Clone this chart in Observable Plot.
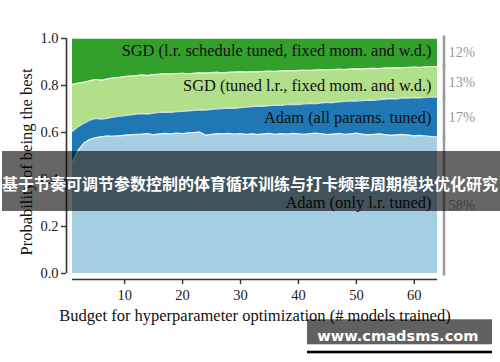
<!DOCTYPE html>
<html>
<head>
<meta charset="utf-8">
<script src="https://cdn.jsdelivr.net/npm/d3@7"></script>
<script src="https://cdn.jsdelivr.net/npm/@observablehq/plot@0.6"></script>
<style>
  html, body { margin: 0; padding: 0; background: #fff; }
  #wrap { position: relative; width: 500px; height: 362px; overflow: hidden; }
  #overlay { position: absolute; left: 0; top: 0; pointer-events: none; }
</style>
</head>
<body>
<div id="wrap"></div>
<script>
// ---- data ----
const budget = [1,2,3,4,5,6,7,8,9,10,11,12,13,14,15,16,17,18,19,20,21,22,23,24,25,26,27,28,29,30,31,32,
  33,34,35,36,37,38,39,40,41,42,43,44,45,46,47,48,49,50,51,52,53,54,55,56,57,58,59,60,61,62,63,64];
const seriesNames = ["Adam (only l.r. tuned)", "Adam (all params. tuned)",
  "SGD (tuned l.r., fixed mom. and w.d.)", "SGD (l.r. schedule tuned, fixed mom. and w.d.)"];
const seriesColors = ["#a6cee3", "#1f78b4", "#b2df8a", "#33a02c"];
const finalShareLabels = ["58%", "17%", "13%", "12%"];
const xTicks = [10, 20, 30, 40, 50, 60];
const yTicks = [0, 0.2, 0.4, 0.6, 0.8, 1.0];

const adamLrOnly = [0.475,0.525,0.555,0.570,0.578,0.582,0.585,0.584,0.586,0.588,
  0.590,0.592,0.593,0.595,0.590,0.594,0.596,0.594,0.597,0.595,
  0.598,0.600,0.602,0.588,0.592,0.595,0.594,0.596,0.593,0.595,
  0.592,0.594,0.591,0.594,0.596,0.592,0.595,0.593,0.596,0.594,
  0.592,0.595,0.597,0.594,0.591,0.593,0.596,0.592,0.594,0.597,
  0.593,0.590,0.592,0.594,0.591,0.588,0.590,0.592,0.589,0.586,
  0.588,0.585,0.583,0.580];
const adamAll = [0.130,0.100,0.085,0.082,0.082,0.075,0.075,0.081,0.082,0.084,
  0.085,0.086,0.087,0.083,0.092,0.091,0.091,0.092,0.092,0.095,
  0.094,0.094,0.094,0.107,0.106,0.105,0.108,0.108,0.110,0.111,
  0.116,0.116,0.121,0.117,0.118,0.124,0.120,0.125,0.124,0.125,
  0.130,0.129,0.126,0.132,0.137,0.134,0.134,0.140,0.140,0.136,
  0.143,0.148,0.145,0.146,0.151,0.156,0.153,0.155,0.157,0.162,
  0.159,0.164,0.167,0.170];
const sgdTunedLr = [0.200,0.185,0.174,0.168,0.166,0.165,0.168,0.167,0.166,0.166,
  0.165,0.164,0.165,0.165,0.164,0.163,0.163,0.163,0.162,0.162,
  0.158,0.158,0.158,0.158,0.157,0.156,0.152,0.152,0.154,0.152,
  0.149,0.149,0.146,0.149,0.147,0.144,0.147,0.145,0.142,0.145,
  0.143,0.140,0.143,0.141,0.138,0.141,0.139,0.136,0.136,0.138,
  0.134,0.134,0.136,0.132,0.132,0.131,0.133,0.128,0.131,0.130,
  0.130,0.130,0.130,0.130];
const sgdSchedule = [0.195,0.190,0.186,0.180,0.174,0.178,0.172,0.168,0.166,0.162,
  0.160,0.158,0.155,0.157,0.154,0.152,0.150,0.151,0.149,0.148,
  0.150,0.148,0.146,0.147,0.145,0.144,0.146,0.144,0.143,0.142,
  0.143,0.141,0.142,0.140,0.139,0.140,0.138,0.137,0.138,0.136,
  0.135,0.136,0.134,0.133,0.134,0.132,0.131,0.132,0.130,0.129,
  0.130,0.128,0.127,0.128,0.126,0.125,0.124,0.125,0.123,0.122,
  0.123,0.121,0.120,0.120];

const bannerText = "基于节奏可调节参数控制的体育循环训练与打卡频率周期模块优化研究";
const watermarkText = "www.cmadsms.com";

// ---- build table ----
const seriesValues = [adamLrOnly, adamAll, sgdTunedLr, sgdSchedule];
const rows = budget.flatMap((x, i) => seriesNames.map((s, k) => ({x, s, p: seriesValues[k][i]})));
const lastX = budget[budget.length - 1];
const lastRows = rows.filter(d => d.x === lastX);
const labelOf = new Map(seriesNames.map((s, k) => [s, finalShareLabels[k]]));

const serif = "'Liberation Serif', 'Times New Roman', serif";
const stackOpts = {x: "x", y: "p", z: "s", order: seriesNames};

const chart = Plot.plot({
  width: 500,
  height: 362,
  marginLeft: 72,
  marginRight: 63,
  marginTop: 38,
  marginBottom: 89,
  style: {fontFamily: serif, fontSize: "14.5px", color: "#222", background: "#fff"},
  x: {domain: [1, 64]},
  y: {domain: [0, 1]},
  color: {domain: seriesNames, range: seriesColors},
  marks: [
    Plot.areaY(rows, Plot.stackY({...stackOpts, fill: "s"})),
    Plot.lineY(rows, Plot.stackY2({...stackOpts, stroke: "#ffffff", strokeWidth: 1.2, strokeOpacity: 0.75})),
    // offset axes
    Plot.ruleX([1], {y1: 0, y2: 1, dx: -6, stroke: "#333", strokeWidth: 1.6}),
    Plot.ruleY([0], {x1: 1, x2: 64, dy: 6, stroke: "#333", strokeWidth: 1.6}),
    Plot.axisY({ticks: yTicks, tickFormat: d3.format(".1f"), tickSize: 5, dx: -6, tickPadding: 3,
      stroke: "#333", strokeWidth: 1.4, label: null, fontSize: 14.5}),
    Plot.axisX({ticks: xTicks, tickSize: 5, dy: 6, tickPadding: 5,
      stroke: "#333", strokeWidth: 1.4, label: null, fontSize: 14.5}),
    Plot.text(["Probability of being the best"], {frameAnchor: "left", textAnchor: "middle", rotate: -90,
      dx: -46, dy: 6, fontSize: 16.5, fill: "#111"}),
    Plot.text(["Budget for hyperparameter optimization (# models trained)"], {frameAnchor: "bottom", dy: 47,
      fontSize: 16.5, fill: "#111"}),
    // series labels inside the areas
    Plot.text([seriesNames[3]], {x: lastX, y: 0.947, textAnchor: "end", dx: -6, fontSize: 16.4, fill: "#111"}),
    Plot.text([seriesNames[2]], {x: lastX, y: 0.800, textAnchor: "end", dx: -6, fontSize: 16.4, fill: "#111"}),
    Plot.text([seriesNames[1]], {x: lastX, y: 0.661, textAnchor: "end", dx: -6, fontSize: 16.4, fill: "#111"}),
    Plot.text([seriesNames[0]], {x: lastX, y: 0.299, textAnchor: "end", dx: -6, fontSize: 16.4, fill: "#111"}),
    // brackets and final shares on the right
    Plot.ruleX(lastRows, Plot.stackY({...stackOpts, dx: 6.5, insetTop: 2.5, insetBottom: 2.5,
      stroke: "#9a9a9a", strokeWidth: 2.5})),
    Plot.text(lastRows, Plot.stackY({...stackOpts, text: d => labelOf.get(d.s), dx: 11, textAnchor: "start",
      fontSize: 14.5, fill: "#999"}))
  ]
});

const wrap = document.getElementById("wrap");
wrap.appendChild(chart);

// overlay: banner and watermark (text kept as real text)
const ns = "http://www.w3.org/2000/svg";
const ov = document.createElementNS(ns, "svg");
ov.setAttribute("id", "overlay");
ov.setAttribute("width", 500);
ov.setAttribute("height", 362);
function el(tag, attrs, text) {
  const e = document.createElementNS(ns, tag);
  for (const k in attrs) e.setAttribute(k, attrs[k]);
  if (text) e.textContent = text;
  ov.appendChild(e);
  return e;
}
el("rect", {x: 2, y: 151, width: 498, height: 60, fill: "rgba(0,0,0,0.6)"});
el("text", {x: 250, y: 190, "text-anchor": "middle", "font-family": "'Noto Sans CJK SC', sans-serif",
  "font-weight": "bold", "font-size": 16, fill: "#fff"}, bannerText);
el("rect", {x: 307, y: 319.3, width: 185, height: 25, fill: "rgba(0,0,0,0.62)"});
el("rect", {x: 307, y: 350.7, width: 185, height: 2.6, fill: "#000"});
el("text", {x: 317.3, y: 340.7, "font-family": "'DejaVu Sans', sans-serif", "font-weight": "bold",
  "font-size": 14.6, fill: "#fff"}, watermarkText);
wrap.appendChild(ov);
</script>
</body>
</html>
